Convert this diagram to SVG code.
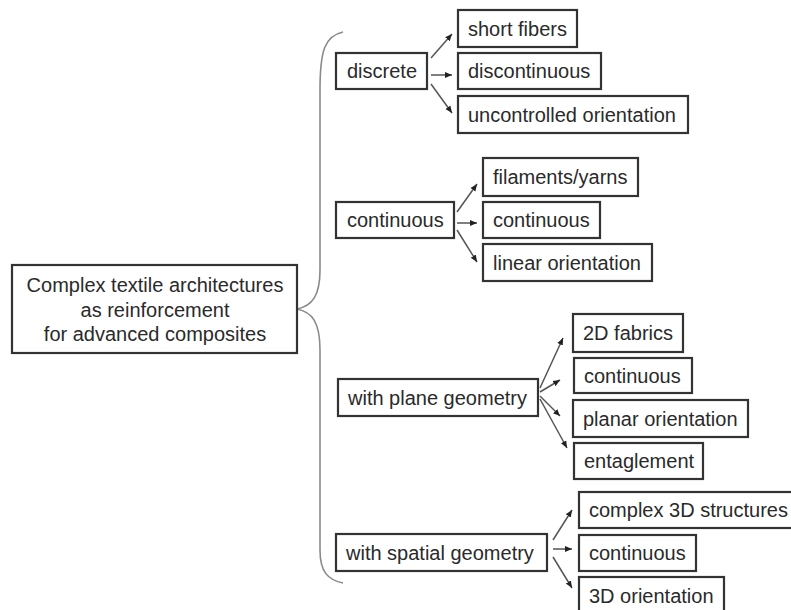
<svg xmlns="http://www.w3.org/2000/svg" width="791" height="610" viewBox="0 0 791 610">
<defs>
<marker id="ah" markerUnits="userSpaceOnUse" markerWidth="8" markerHeight="8" viewBox="0 0 8 8" refX="7" refY="4" orient="auto">
<path d="M0,1 L7,4 L0,7 Z" fill="#222"/>
</marker>
<style>
.box{fill:#fff;stroke:#333;stroke-width:2.2}
.t{font-family:"Liberation Sans",Arial,sans-serif;font-size:20px;fill:#2a2a2a}
.c{text-anchor:middle}
.ln{stroke:#555;stroke-width:1.5;fill:none;marker-end:url(#ah)}
.br{stroke:#8a8a8a;stroke-width:1.6;fill:none}
</style>
</defs>
<rect width="791" height="610" fill="#fff"/>
<g id="connectors">
<path class="br" d="M343,32 C325,36 320,50 320,90 L320,270 C320,296 312,306 297,309 C312,312 320,322 320,350 L320,550 C320,572 328,580 343,583"/>
<line class="ln" x1="431" y1="58" x2="452" y2="34"/>
<line class="ln" x1="431" y1="75" x2="452" y2="75"/>
<line class="ln" x1="431" y1="84" x2="452" y2="113"/>
<line class="ln" x1="457" y1="212" x2="477" y2="184"/>
<line class="ln" x1="457" y1="223" x2="477" y2="223"/>
<line class="ln" x1="457" y1="230" x2="477" y2="262"/>
<line class="ln" x1="540" y1="388" x2="563" y2="338"/>
<line class="ln" x1="540" y1="392" x2="560" y2="380"/>
<line class="ln" x1="540" y1="396" x2="560" y2="416"/>
<line class="ln" x1="540" y1="399" x2="567" y2="448"/>
<line class="ln" x1="553" y1="540" x2="572" y2="510"/>
<line class="ln" x1="553" y1="549" x2="572" y2="549"/>
<line class="ln" x1="553" y1="557" x2="572" y2="588"/>
</g>
<g id="root">
<rect class="box" x="12" y="265" width="285" height="88"/>
<text class="t c" x="155" y="292">Complex textile architectures</text>
<text class="t c" x="155" y="317">as reinforcement</text>
<text class="t c" x="155" y="341">for advanced composites</text>
</g>
<g id="discrete"><rect class="box" x="336" y="53" width="91" height="36"/><text class="t" x="347" y="78">discrete</text></g>
<g id="continuous"><rect class="box" x="336" y="202" width="118" height="36"/><text class="t" x="347" y="227">continuous</text></g>
<g id="plane"><rect class="box" x="338" y="379" width="200" height="37"/><text class="t" x="348" y="405">with plane geometry</text></g>
<g id="spatial"><rect class="box" x="336" y="534" width="211" height="37"/><text class="t" x="346" y="560">with spatial geometry</text></g>
<g id="short-fibers"><rect class="box" x="458" y="10" width="119" height="37"/><text class="t" x="468" y="35.5">short fibers</text></g>
<g id="discontinuous"><rect class="box" x="458" y="53" width="143" height="36"/><text class="t" x="468" y="78">discontinuous</text></g>
<g id="uncontrolled"><rect class="box" x="458" y="96" width="230" height="37"/><text class="t" x="468" y="121.5">uncontrolled orientation</text></g>
<g id="filaments"><rect class="box" x="483" y="158" width="155" height="38"/><text class="t" x="493" y="184">filaments/yarns</text></g>
<g id="continuous2"><rect class="box" x="483" y="202" width="117" height="36"/><text class="t" x="493" y="227">continuous</text></g>
<g id="linear"><rect class="box" x="483" y="244" width="169" height="37"/><text class="t" x="493" y="269.5">linear orientation</text></g>
<g id="fabrics2d"><rect class="box" x="573" y="314" width="110" height="38"/><text class="t" x="583" y="340">2D fabrics</text></g>
<g id="continuous3"><rect class="box" x="574" y="358" width="118" height="35"/><text class="t" x="584" y="382.5">continuous</text></g>
<g id="planar"><rect class="box" x="573" y="400" width="175" height="37"/><text class="t" x="583" y="425.5">planar orientation</text></g>
<g id="entaglement"><rect class="box" x="574" y="443" width="129" height="36"/><text class="t" x="584" y="468">entaglement</text></g>
<g id="complex3d"><rect class="box" x="579" y="492" width="225" height="36"/><text class="t" x="589" y="517">complex 3D structures</text></g>
<g id="continuous4"><rect class="box" x="579" y="535" width="117" height="36"/><text class="t" x="589" y="560">continuous</text></g>
<g id="orientation3d"><rect class="box" x="579" y="577" width="145" height="40"/><text class="t" x="589" y="603">3D orientation</text></g>
</svg>
